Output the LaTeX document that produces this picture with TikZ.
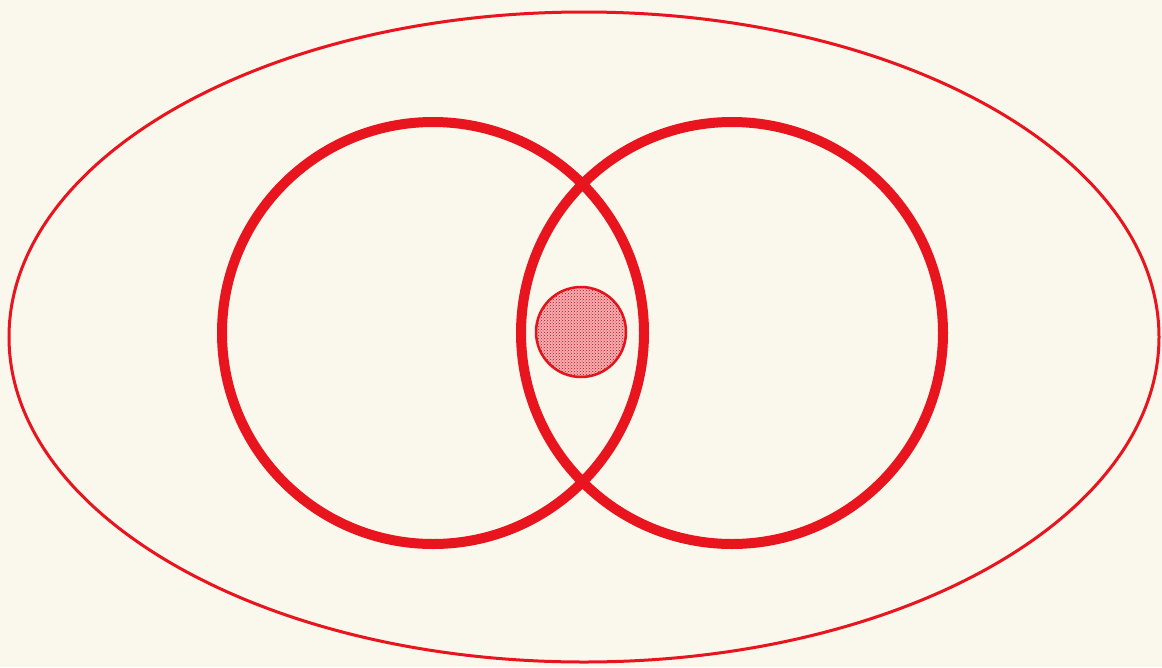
\documentclass[tikz,border=0pt]{standalone}
\usetikzlibrary{patterns}
\definecolor{bg}{HTML}{FAF7EC}
\definecolor{rd}{HTML}{E8141E}
\begin{document}
\begin{tikzpicture}[x=1pt,y=-1pt,
  ring/.style={draw=rd,line width=10pt},
  outer/.style={draw=rd,line width=3pt},
  core/.style={draw=rd,line width=2.5pt,fill=rd!35,postaction={pattern=crosshatch dots,pattern color=rd!80!black}}]
\fill[bg] (0,0) rectangle (1162,667);
\useasboundingbox (0,0) rectangle (1162,667);
\draw[outer] (584,337) ellipse [x radius=575, y radius=325];
\draw[ring] (433,333) circle [radius=211];
\draw[ring] (732,333) circle [radius=211];
\draw[core] (581,332) circle [radius=45];
\end{tikzpicture}
\end{document}
